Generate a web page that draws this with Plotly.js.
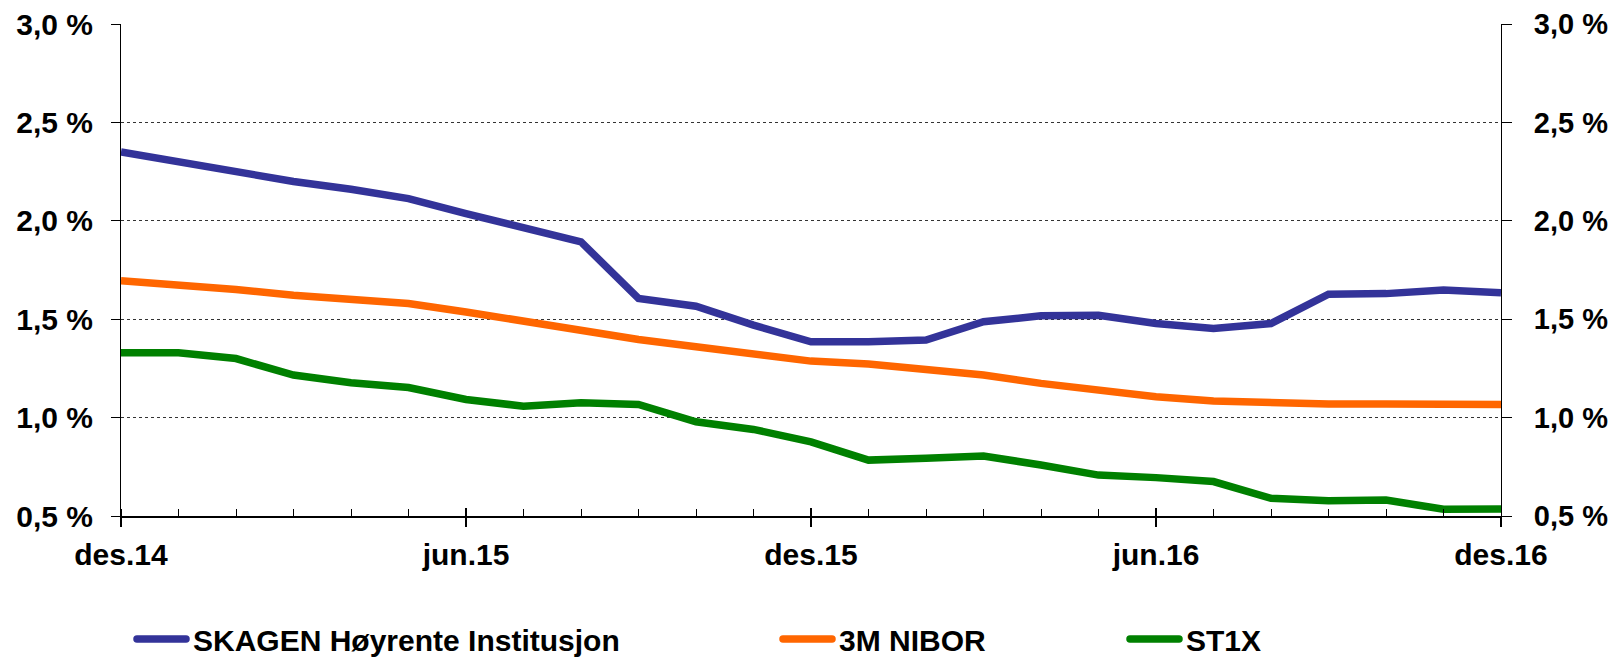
<!DOCTYPE html>
<html><head><meta charset="utf-8">
<script src="https://cdn.plot.ly/plotly-3.0.1.min.js"></script>
<style>html,body{margin:0;padding:0;background:#fff}#chart{width:1612px;height:659px}</style>
</head><body><div id="chart"></div>
<script>
const months = ["des.14","jan.15","feb.15","mar.15","apr.15","mai.15","jun.15","jul.15","aug.15","sep.15","okt.15","nov.15",
  "des.15","jan.16","feb.16","mar.16","apr.16","mai.16","jun.16","jul.16","aug.16","sep.16","okt.16","nov.16","des.16"];
const skagen = [2.35,2.30,2.257,2.20,2.16,2.113,2.037,1.961,1.893,1.605,1.566,1.47,1.385,1.385,1.394,1.487,1.517,1.52,1.478,1.453,1.478,1.627,1.63,1.648,1.634];
const nibor  = [1.695,1.676,1.651,1.622,1.605,1.58,1.537,1.49,1.444,1.397,1.36,1.321,1.287,1.272,1.245,1.216,1.174,1.136,1.106,1.084,1.075,1.069,1.069,1.064,1.067];
const st1x   = [1.329,1.329,1.30,1.216,1.177,1.153,1.092,1.058,1.075,1.067,0.979,0.94,0.877,0.784,0.793,0.805,0.759,0.708,0.695,0.675,0.59,0.578,0.581,0.534,0.535];
const seriesNames = ["SKAGEN Høyrente Institusjon","3M NIBOR","ST1X"];
const xTickLabels = ["des.14","jun.15","des.15","jun.16","des.16"];
const yTickVals = [0.5,1.0,1.5,2.0,2.5,3.0];
const yTickText = ["0,5 %","1,0 %","1,5 %","2,0 %","2,5 %","3,0 %"];

const xIdx = months.map((m,i)=>i);
const xTickVals = xTickLabels.map(l=>months.indexOf(l));
const FONT = {family:"Liberation Sans, Arial, sans-serif", size:30, color:"#000", weight:"bold"};
const FONT_R = Object.assign({}, FONT, {size:29});
const FONT_L = Object.assign({}, FONT, {size:30});

const traces = [
  {x:xIdx, y:skagen, name:seriesNames[0], type:"scatter", mode:"lines", line:{color:"#333399", width:7.5}, legend:"legend"},
  {x:xIdx, y:nibor,  name:seriesNames[1], type:"scatter", mode:"lines", line:{color:"#FF6600", width:7.5}, legend:"legend2"},
  {x:xIdx, y:st1x,   name:seriesNames[2], type:"scatter", mode:"lines", line:{color:"#008000", width:7.5}, legend:"legend3"},
  {x:[0], y:[0.5], xaxis:"x2", yaxis:"y2", mode:"markers", marker:{opacity:0}, showlegend:false, hoverinfo:"skip"}
];

const legendBase = {orientation:"h", xref:"container", yref:"container", y:1-639/659, yanchor:"middle", xanchor:"left",
  font:FONT_L, bgcolor:"rgba(0,0,0,0)", itemwidth:57, borderwidth:0};

const layout = {
  width:1612, height:659,
  margin:{l:121, r:111, t:24, b:143},
  paper_bgcolor:"#fff", plot_bgcolor:"#fff",
  font:FONT,
  showlegend:true,
  legend:Object.assign({}, legendBase, {x:126/1612}),
  legend2:Object.assign({}, legendBase, {x:772/1612}),
  legend3:Object.assign({}, legendBase, {x:1119/1612}),
  xaxis:{range:[0,24], tickmode:"array", tickvals:xTickVals, ticktext:xTickLabels,
    ticks:"outside", ticklen:9, tickwidth:1.5, tickcolor:"#000",
    showline:true, linecolor:"#000", linewidth:1.5, showgrid:false, zeroline:false,
    tickfont:FONT, ticklabelstandoff:2,
    minor:{tickmode:"linear", tick0:0, dtick:1, ticks:"inside", ticklen:7, tickwidth:1, tickcolor:"#000", showgrid:false}},
  xaxis2:{range:[0,24], overlaying:"x", anchor:"y", tickmode:"array", tickvals:xTickVals, ticks:"inside", ticklen:8,
    tickwidth:1.5, tickcolor:"#000", showticklabels:false, showline:false, showgrid:false, zeroline:false},
  yaxis:{range:[0.5,3.0], tickmode:"array", tickvals:yTickVals, ticktext:yTickText,
    ticks:"outside", ticklen:9, tickwidth:1, tickcolor:"#000",
    showline:true, linecolor:"#000", linewidth:1, showgrid:true, gridcolor:"#333", gridwidth:1, griddash:"dot",
    zeroline:false, tickfont:FONT, ticklabelstandoff:12},
  yaxis2:{range:[0.5,3.0], overlaying:"y", side:"right", anchor:"x", tickmode:"array", tickvals:yTickVals, ticktext:yTickText,
    ticks:"outside", ticklen:10, tickwidth:1, tickcolor:"#000",
    showline:true, linecolor:"#000", linewidth:1, showgrid:false, zeroline:false, tickfont:FONT_R, ticklabelstandoff:16}
};

Plotly.newPlot("chart", traces, layout, {displayModeBar:false, staticPlot:true}).then(function(gd){
  gd.querySelectorAll(".legendlines path").forEach(function(p){
    p.setAttribute("d", "M11,0h49");
    p.style.strokeLinecap = "round";
  });
});
</script></body></html>
